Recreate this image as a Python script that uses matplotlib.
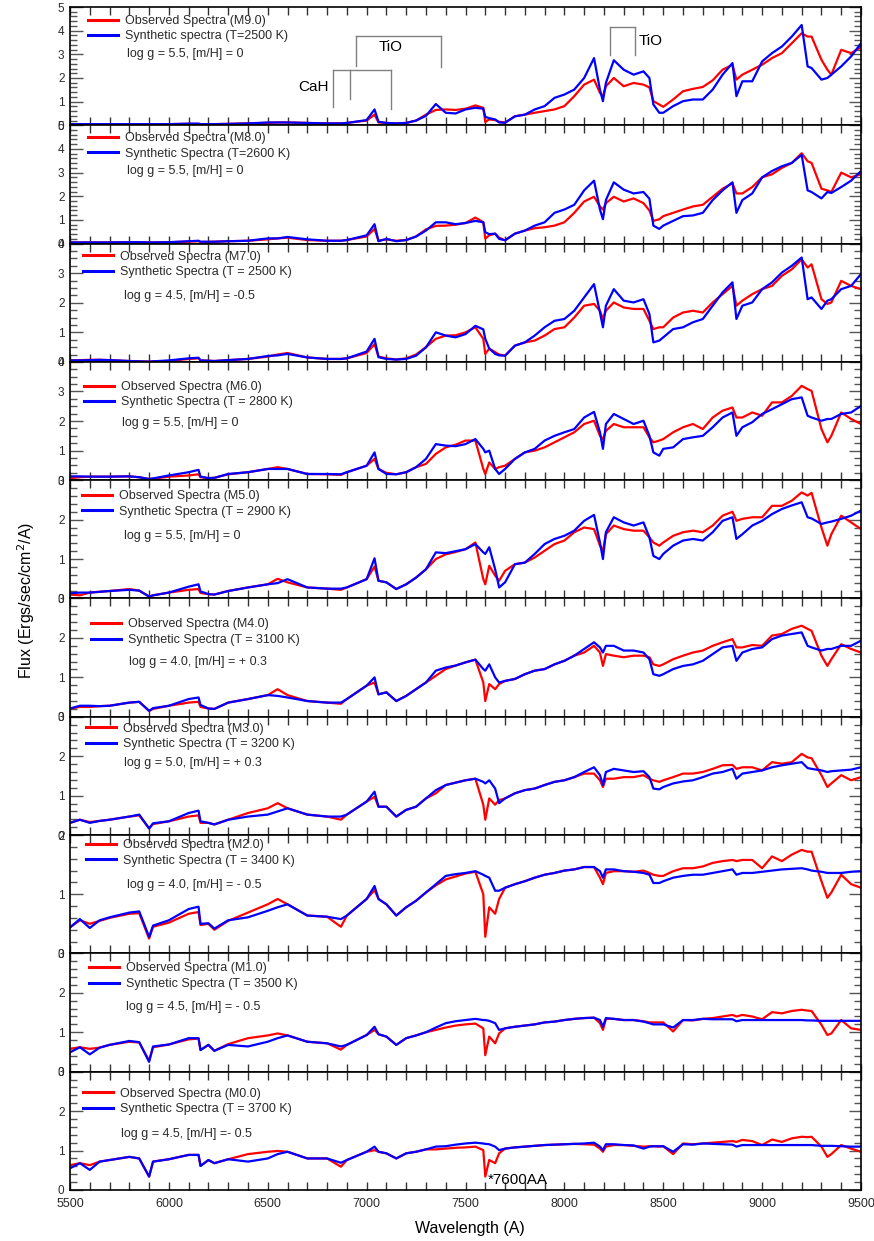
import matplotlib.pyplot as plt
from matplotlib.ticker import MultipleLocator
from matplotlib.lines import Line2D

plt.rcParams['font.family'] = ['Liberation Sans', 'DejaVu Sans']

# wavelength grid (Angstrom) shared by all spectra
wavelength = [5500, 5550, 5600, 5650, 5700, 5800, 5850, 5900, 5920, 6000,
              6100, 6150, 6160, 6200, 6230, 6300, 6400, 6500, 6550, 6600,
              6700, 6800, 6870, 6900, 7000, 7040, 7060, 7100, 7150, 7200,
              7250, 7300, 7350, 7400, 7450, 7500, 7550, 7590, 7600, 7620,
              7650, 7670, 7700, 7750, 7800, 7850, 7900, 7950, 8000, 8050,
              8100, 8150, 8180, 8195, 8210, 8250, 8300, 8350, 8400, 8430,
              8450, 8480, 8500, 8550, 8600, 8650, 8700, 8750, 8800, 8850,
              8870, 8900, 8950, 9000, 9050, 9100, 9150, 9200, 9230, 9250,
              9300, 9330, 9350, 9400, 9450, 9500]

# --- M9.0 ---
obs_m9 = [0.05, 0.05, 0.05, 0.05, 0.05, 0.05, 0.05, 0.04, 0.04, 0.05,
          0.06, 0.06, 0.05, 0.05, 0.05, 0.06, 0.08, 0.10, 0.12, 0.12,
          0.10, 0.08, 0.08, 0.10, 0.20, 0.45, 0.12, 0.10, 0.08, 0.10,
          0.20, 0.45, 0.65, 0.67, 0.65, 0.70, 0.84, 0.74, 0.14, 0.25,
          0.22, 0.15, 0.11, 0.38, 0.45, 0.53, 0.60, 0.67, 0.81, 1.23,
          1.72, 1.93, 1.37, 1.23, 1.65, 2.00, 1.65, 1.79, 1.72, 1.60,
          1.02, 0.88, 0.78, 1.09, 1.44, 1.54, 1.62, 1.90, 2.35, 2.56,
          1.93, 2.14, 2.35, 2.56, 2.84, 3.05, 3.47, 3.89, 3.75, 3.75,
          2.77, 2.35, 2.14, 3.19, 3.05, 3.30]
syn_m9 = [0.05, 0.05, 0.05, 0.05, 0.05, 0.05, 0.05, 0.05, 0.05, 0.05,
          0.07, 0.07, 0.05, 0.05, 0.05, 0.06, 0.08, 0.12, 0.12, 0.12,
          0.10, 0.08, 0.08, 0.10, 0.22, 0.67, 0.15, 0.10, 0.08, 0.10,
          0.20, 0.40, 0.90, 0.53, 0.50, 0.67, 0.74, 0.70, 0.36, 0.30,
          0.25, 0.12, 0.11, 0.38, 0.45, 0.67, 0.81, 1.16, 1.30, 1.51,
          2.00, 2.84, 1.50, 1.02, 1.79, 2.75, 2.35, 2.14, 2.28, 2.00,
          0.88, 0.53, 0.53, 0.81, 1.02, 1.09, 1.09, 1.51, 2.14, 2.63,
          1.23, 1.86, 1.86, 2.70, 3.05, 3.33, 3.75, 4.24, 2.49, 2.42,
          1.93, 2.00, 2.14, 2.49, 2.91, 3.47]

# --- M8.0 ---
obs_m8 = [0.05, 0.05, 0.05, 0.05, 0.05, 0.06, 0.06, 0.05, 0.05, 0.06,
          0.08, 0.10, 0.07, 0.07, 0.08, 0.10, 0.12, 0.18, 0.22, 0.25,
          0.15, 0.12, 0.12, 0.15, 0.30, 0.62, 0.12, 0.18, 0.12, 0.15,
          0.30, 0.60, 0.75, 0.76, 0.80, 0.87, 1.10, 0.90, 0.21, 0.35,
          0.42, 0.25, 0.14, 0.42, 0.55, 0.65, 0.69, 0.76, 0.90, 1.30,
          1.78, 1.98, 1.57, 1.44, 1.71, 1.98, 1.78, 1.91, 1.71, 1.40,
          0.96, 1.03, 1.16, 1.30, 1.44, 1.57, 1.64, 1.98, 2.32, 2.55,
          2.12, 2.12, 2.39, 2.80, 2.93, 3.20, 3.41, 3.82, 3.48, 3.41,
          2.32, 2.25, 2.18, 3.00, 2.80, 2.93]
syn_m8 = [0.05, 0.05, 0.05, 0.05, 0.05, 0.06, 0.06, 0.05, 0.05, 0.06,
          0.10, 0.12, 0.08, 0.08, 0.08, 0.10, 0.12, 0.22, 0.22, 0.28,
          0.18, 0.12, 0.12, 0.15, 0.35, 0.82, 0.10, 0.20, 0.10, 0.15,
          0.30, 0.55, 0.90, 0.90, 0.82, 0.87, 0.96, 0.90, 0.48, 0.40,
          0.42, 0.20, 0.14, 0.42, 0.55, 0.76, 0.90, 1.30, 1.44, 1.64,
          2.25, 2.66, 1.44, 1.03, 1.84, 2.59, 2.28, 2.12, 2.18, 1.90,
          0.76, 0.62, 0.76, 0.96, 1.16, 1.19, 1.30, 1.84, 2.25, 2.59,
          1.30, 1.84, 2.12, 2.80, 3.07, 3.27, 3.41, 3.75, 2.25, 2.18,
          1.91, 2.18, 2.14, 2.39, 2.66, 3.07]

# --- M7.0 ---
obs_m7 = [0.05, 0.06, 0.07, 0.07, 0.06, 0.03, 0.02, 0.01, 0.02, 0.03,
          0.10, 0.12, 0.05, 0.04, 0.03, 0.06, 0.10, 0.18, 0.25, 0.30,
          0.15, 0.10, 0.10, 0.12, 0.30, 0.60, 0.18, 0.12, 0.08, 0.12,
          0.25, 0.50, 0.78, 0.89, 0.90, 1.00, 1.17, 0.78, 0.27, 0.45,
          0.33, 0.25, 0.21, 0.55, 0.66, 0.72, 0.89, 1.11, 1.17, 1.50,
          1.90, 1.96, 1.73, 1.45, 1.73, 2.01, 1.84, 1.79, 1.79, 1.39,
          1.11, 1.17, 1.17, 1.50, 1.67, 1.73, 1.67, 2.01, 2.29, 2.57,
          1.90, 2.07, 2.29, 2.46, 2.57, 2.91, 3.13, 3.47, 3.19, 3.30,
          2.12, 1.96, 2.01, 2.74, 2.57, 2.46]
syn_m7 = [0.05, 0.05, 0.06, 0.07, 0.06, 0.03, 0.02, 0.01, 0.02, 0.05,
          0.12, 0.14, 0.05, 0.04, 0.03, 0.06, 0.10, 0.20, 0.22, 0.27,
          0.15, 0.10, 0.10, 0.12, 0.35, 0.78, 0.16, 0.10, 0.08, 0.10,
          0.21, 0.49, 1.00, 0.89, 0.83, 0.94, 1.22, 1.10, 0.78, 0.45,
          0.27, 0.22, 0.21, 0.55, 0.66, 0.89, 1.17, 1.39, 1.45, 1.73,
          2.18, 2.63, 1.67, 1.17, 1.90, 2.46, 2.07, 2.01, 2.12, 1.62,
          0.66, 0.72, 0.83, 1.11, 1.17, 1.34, 1.45, 1.90, 2.35, 2.69,
          1.45, 1.90, 2.01, 2.46, 2.69, 3.02, 3.25, 3.53, 2.12, 2.18,
          1.79, 2.07, 2.12, 2.46, 2.57, 2.97]

# --- M6.0 ---
obs_m6 = [0.07, 0.10, 0.12, 0.12, 0.12, 0.13, 0.10, 0.04, 0.05, 0.12,
          0.16, 0.20, 0.10, 0.07, 0.08, 0.20, 0.27, 0.38, 0.44, 0.38,
          0.21, 0.20, 0.18, 0.27, 0.49, 0.72, 0.38, 0.25, 0.20, 0.27,
          0.44, 0.55, 0.89, 1.11, 1.20, 1.34, 1.34, 0.38, 0.21, 0.60,
          0.38, 0.44, 0.49, 0.72, 0.94, 1.00, 1.11, 1.28, 1.45, 1.62,
          1.90, 2.01, 1.50, 1.39, 1.67, 1.90, 1.79, 1.79, 1.79, 1.45,
          1.28, 1.34, 1.39, 1.62, 1.79, 1.90, 1.73, 2.12, 2.35, 2.46,
          2.12, 2.12, 2.29, 2.18, 2.63, 2.63, 2.85, 3.19, 3.08, 3.02,
          1.73, 1.28, 1.50, 2.29, 2.07, 1.90]
syn_m6 = [0.13, 0.13, 0.12, 0.12, 0.12, 0.13, 0.10, 0.04, 0.06, 0.16,
          0.27, 0.35, 0.12, 0.07, 0.08, 0.21, 0.27, 0.38, 0.38, 0.38,
          0.21, 0.21, 0.20, 0.27, 0.49, 0.94, 0.38, 0.21, 0.20, 0.27,
          0.44, 0.72, 1.22, 1.17, 1.15, 1.22, 1.39, 1.06, 0.94, 1.00,
          0.38, 0.21, 0.38, 0.72, 0.94, 1.06, 1.34, 1.50, 1.62, 1.73,
          2.12, 2.31, 1.62, 1.06, 1.90, 2.24, 2.07, 1.90, 2.01, 1.50,
          0.94, 0.83, 1.06, 1.11, 1.39, 1.45, 1.50, 1.79, 2.12, 2.29,
          1.50, 1.79, 1.96, 2.24, 2.40, 2.57, 2.74, 2.80, 2.18, 2.12,
          2.01, 2.07, 2.07, 2.24, 2.29, 2.51]

# --- M5.0 ---
obs_m5 = [0.10, 0.08, 0.15, 0.17, 0.19, 0.24, 0.20, 0.05, 0.08, 0.15,
          0.22, 0.24, 0.14, 0.11, 0.10, 0.19, 0.28, 0.36, 0.50, 0.41,
          0.28, 0.25, 0.22, 0.28, 0.49, 0.81, 0.45, 0.41, 0.24, 0.36,
          0.53, 0.74, 1.00, 1.12, 1.18, 1.25, 1.42, 0.49, 0.36, 0.83,
          0.58, 0.45, 0.70, 0.87, 0.91, 1.04, 1.21, 1.38, 1.47, 1.68,
          1.80, 1.76, 1.34, 1.21, 1.63, 1.85, 1.76, 1.72, 1.72, 1.55,
          1.42, 1.34, 1.42, 1.59, 1.68, 1.72, 1.68, 1.85, 2.10, 2.20,
          1.97, 2.02, 2.06, 2.06, 2.35, 2.35, 2.48, 2.69, 2.61, 2.68,
          1.80, 1.34, 1.63, 2.10, 1.93, 1.76]
syn_m5 = [0.13, 0.15, 0.15, 0.17, 0.19, 0.22, 0.20, 0.05, 0.08, 0.15,
          0.30, 0.36, 0.18, 0.11, 0.10, 0.19, 0.28, 0.36, 0.39, 0.49,
          0.28, 0.25, 0.25, 0.28, 0.49, 1.02, 0.45, 0.41, 0.24, 0.36,
          0.53, 0.74, 1.17, 1.15, 1.20, 1.25, 1.38, 1.17, 1.13, 1.30,
          0.74, 0.28, 0.41, 0.87, 0.91, 1.13, 1.38, 1.51, 1.59, 1.72,
          1.97, 2.12, 1.42, 1.00, 1.68, 2.06, 1.93, 1.85, 1.93, 1.55,
          1.08, 1.00, 1.13, 1.34, 1.47, 1.51, 1.47, 1.68, 1.97, 2.06,
          1.51, 1.63, 1.85, 1.97, 2.14, 2.27, 2.36, 2.44, 2.06, 2.03,
          1.89, 1.93, 1.95, 2.02, 2.10, 2.23]

# --- M4.0 ---
obs_m4 = [0.21, 0.25, 0.25, 0.27, 0.28, 0.36, 0.38, 0.15, 0.20, 0.28,
          0.36, 0.38, 0.25, 0.21, 0.20, 0.36, 0.45, 0.55, 0.70, 0.55,
          0.40, 0.36, 0.33, 0.45, 0.79, 0.87, 0.57, 0.62, 0.40, 0.53,
          0.70, 0.87, 1.04, 1.21, 1.30, 1.38, 1.45, 0.87, 0.40, 0.83,
          0.70, 0.83, 0.91, 0.96, 1.08, 1.17, 1.21, 1.33, 1.42, 1.55,
          1.63, 1.80, 1.63, 1.29, 1.59, 1.55, 1.51, 1.55, 1.55, 1.51,
          1.33, 1.29, 1.33, 1.46, 1.55, 1.63, 1.68, 1.80, 1.89, 1.97,
          1.76, 1.76, 1.82, 1.80, 2.06, 2.10, 2.23, 2.31, 2.23, 2.18,
          1.55, 1.29, 1.46, 1.84, 1.72, 1.63]
syn_m4 = [0.21, 0.28, 0.28, 0.27, 0.28, 0.36, 0.38, 0.15, 0.22, 0.28,
          0.45, 0.49, 0.30, 0.21, 0.20, 0.36, 0.45, 0.55, 0.53, 0.49,
          0.40, 0.36, 0.36, 0.45, 0.79, 1.00, 0.57, 0.62, 0.40, 0.53,
          0.70, 0.87, 1.17, 1.25, 1.30, 1.38, 1.45, 1.21, 1.17, 1.33,
          1.00, 0.87, 0.91, 0.96, 1.08, 1.17, 1.21, 1.33, 1.42, 1.55,
          1.72, 1.89, 1.76, 1.63, 1.80, 1.80, 1.68, 1.68, 1.63, 1.46,
          1.08, 1.04, 1.08, 1.21, 1.29, 1.33, 1.42, 1.59, 1.76, 1.80,
          1.42, 1.63, 1.72, 1.76, 1.97, 2.06, 2.10, 2.14, 1.80, 1.76,
          1.68, 1.72, 1.72, 1.80, 1.80, 1.93]

# --- M3.0 ---
obs_m3 = [0.31, 0.39, 0.33, 0.36, 0.39, 0.47, 0.50, 0.17, 0.28, 0.35,
          0.47, 0.50, 0.31, 0.31, 0.27, 0.39, 0.56, 0.68, 0.81, 0.68,
          0.52, 0.47, 0.39, 0.52, 0.85, 0.97, 0.72, 0.72, 0.47, 0.64,
          0.72, 0.93, 1.06, 1.27, 1.33, 1.39, 1.43, 0.77, 0.39, 0.93,
          0.77, 0.89, 0.93, 1.06, 1.14, 1.18, 1.27, 1.35, 1.39, 1.47,
          1.56, 1.56, 1.39, 1.22, 1.43, 1.43, 1.47, 1.47, 1.52, 1.43,
          1.39, 1.35, 1.39, 1.47, 1.56, 1.56, 1.60, 1.68, 1.77, 1.78,
          1.68, 1.72, 1.72, 1.64, 1.85, 1.81, 1.85, 2.06, 1.97, 1.95,
          1.52, 1.22, 1.31, 1.52, 1.39, 1.47]
syn_m3 = [0.31, 0.39, 0.31, 0.36, 0.39, 0.47, 0.52, 0.17, 0.30, 0.35,
          0.56, 0.62, 0.35, 0.31, 0.27, 0.39, 0.47, 0.52, 0.60, 0.68,
          0.52, 0.47, 0.47, 0.52, 0.85, 1.10, 0.72, 0.72, 0.47, 0.64,
          0.72, 0.93, 1.14, 1.27, 1.33, 1.39, 1.43, 1.35, 1.31, 1.39,
          1.18, 0.81, 0.93, 1.06, 1.14, 1.18, 1.27, 1.35, 1.39, 1.47,
          1.60, 1.72, 1.52, 1.27, 1.60, 1.68, 1.64, 1.60, 1.62, 1.47,
          1.18, 1.16, 1.22, 1.31, 1.36, 1.39, 1.47, 1.56, 1.60, 1.68,
          1.43, 1.56, 1.60, 1.64, 1.72, 1.77, 1.81, 1.85, 1.70, 1.68,
          1.64, 1.60, 1.62, 1.64, 1.66, 1.72]

# --- M2.0 ---
obs_m2 = [0.44, 0.56, 0.50, 0.55, 0.60, 0.67, 0.68, 0.25, 0.45, 0.52,
          0.67, 0.70, 0.48, 0.50, 0.40, 0.55, 0.69, 0.83, 0.92, 0.83,
          0.64, 0.62, 0.45, 0.64, 0.92, 1.07, 0.92, 0.83, 0.64, 0.78,
          0.89, 1.03, 1.15, 1.25, 1.30, 1.35, 1.38, 1.00, 0.28, 0.78,
          0.67, 0.92, 1.11, 1.17, 1.22, 1.28, 1.33, 1.36, 1.40, 1.42,
          1.46, 1.46, 1.28, 1.17, 1.36, 1.39, 1.39, 1.38, 1.40, 1.36,
          1.33, 1.31, 1.31, 1.39, 1.44, 1.44, 1.47, 1.53, 1.56, 1.58,
          1.56, 1.58, 1.58, 1.44, 1.64, 1.56, 1.67, 1.75, 1.72, 1.72,
          1.22, 0.94, 1.03, 1.33, 1.17, 1.11]
syn_m2 = [0.44, 0.58, 0.43, 0.56, 0.61, 0.69, 0.71, 0.28, 0.47, 0.56,
          0.75, 0.79, 0.50, 0.51, 0.42, 0.56, 0.61, 0.72, 0.78, 0.83,
          0.64, 0.62, 0.58, 0.64, 0.92, 1.14, 0.92, 0.83, 0.64, 0.78,
          0.89, 1.03, 1.17, 1.31, 1.34, 1.36, 1.39, 1.33, 1.31, 1.28,
          1.06, 1.06, 1.11, 1.17, 1.22, 1.28, 1.33, 1.36, 1.40, 1.42,
          1.46, 1.46, 1.39, 1.28, 1.42, 1.42, 1.39, 1.38, 1.36, 1.33,
          1.19, 1.19, 1.22, 1.28, 1.31, 1.33, 1.33, 1.36, 1.39, 1.42,
          1.33, 1.36, 1.36, 1.38, 1.40, 1.42, 1.43, 1.44, 1.42, 1.40,
          1.38, 1.36, 1.36, 1.36, 1.38, 1.39]

# --- M1.0 ---
obs_m1 = [0.58, 0.62, 0.58, 0.61, 0.68, 0.76, 0.74, 0.28, 0.62, 0.69,
          0.82, 0.84, 0.55, 0.68, 0.53, 0.70, 0.85, 0.92, 0.97, 0.92,
          0.76, 0.72, 0.56, 0.68, 0.93, 1.06, 0.95, 0.89, 0.68, 0.85,
          0.92, 1.00, 1.06, 1.12, 1.17, 1.20, 1.22, 1.10, 0.42, 0.89,
          0.72, 0.97, 1.10, 1.14, 1.17, 1.20, 1.25, 1.27, 1.31, 1.34,
          1.36, 1.37, 1.23, 1.06, 1.34, 1.34, 1.31, 1.31, 1.28, 1.25,
          1.25, 1.25, 1.25, 1.02, 1.31, 1.30, 1.34, 1.36, 1.40, 1.44,
          1.40, 1.44, 1.40, 1.33, 1.51, 1.48, 1.54, 1.57, 1.55, 1.54,
          1.19, 0.93, 0.97, 1.31, 1.10, 1.06]
syn_m1 = [0.49, 0.62, 0.44, 0.61, 0.68, 0.78, 0.75, 0.25, 0.64, 0.69,
          0.85, 0.85, 0.55, 0.68, 0.53, 0.68, 0.64, 0.76, 0.85, 0.92,
          0.76, 0.72, 0.64, 0.68, 0.93, 1.14, 0.95, 0.89, 0.68, 0.85,
          0.92, 1.00, 1.12, 1.23, 1.28, 1.31, 1.34, 1.31, 1.31, 1.29,
          1.23, 1.06, 1.10, 1.14, 1.17, 1.20, 1.25, 1.27, 1.31, 1.34,
          1.36, 1.37, 1.31, 1.14, 1.36, 1.34, 1.31, 1.31, 1.27, 1.23,
          1.20, 1.20, 1.20, 1.12, 1.31, 1.31, 1.34, 1.33, 1.33, 1.33,
          1.28, 1.31, 1.31, 1.31, 1.31, 1.31, 1.31, 1.31, 1.30, 1.30,
          1.29, 1.29, 1.29, 1.29, 1.29, 1.29]

# --- M0.0 ---
obs_m0 = [0.63, 0.68, 0.63, 0.72, 0.76, 0.84, 0.80, 0.34, 0.72, 0.78,
          0.89, 0.89, 0.61, 0.76, 0.68, 0.78, 0.91, 0.97, 0.99, 0.97,
          0.80, 0.80, 0.59, 0.76, 0.97, 1.01, 0.97, 0.93, 0.80, 0.93,
          0.97, 1.03, 1.03, 1.05, 1.07, 1.08, 1.10, 1.01, 0.34, 0.76,
          0.68, 0.93, 1.05, 1.08, 1.10, 1.12, 1.14, 1.15, 1.16, 1.17,
          1.16, 1.15, 1.05, 0.97, 1.10, 1.14, 1.14, 1.12, 1.10, 1.11,
          1.11, 1.10, 1.11, 0.91, 1.18, 1.16, 1.18, 1.20, 1.22, 1.24,
          1.22, 1.27, 1.24, 1.14, 1.28, 1.22, 1.31, 1.35, 1.34, 1.35,
          1.10, 0.84, 0.91, 1.14, 1.05, 0.97]
syn_m0 = [0.55, 0.68, 0.51, 0.72, 0.76, 0.84, 0.80, 0.34, 0.72, 0.78,
          0.89, 0.89, 0.61, 0.76, 0.68, 0.78, 0.72, 0.80, 0.91, 0.97,
          0.80, 0.80, 0.69, 0.76, 0.97, 1.10, 0.97, 0.93, 0.80, 0.93,
          0.97, 1.03, 1.10, 1.11, 1.15, 1.18, 1.20, 1.18, 1.17, 1.16,
          1.10, 1.01, 1.05, 1.08, 1.10, 1.12, 1.14, 1.15, 1.16, 1.17,
          1.18, 1.20, 1.10, 1.01, 1.16, 1.16, 1.14, 1.13, 1.05, 1.10,
          1.11, 1.11, 1.11, 0.97, 1.16, 1.15, 1.18, 1.17, 1.16, 1.15,
          1.10, 1.14, 1.14, 1.14, 1.14, 1.14, 1.14, 1.14, 1.14, 1.14,
          1.12, 1.12, 1.12, 1.11, 1.10, 1.10]

observed = [obs_m9, obs_m8, obs_m7, obs_m6, obs_m5, obs_m4, obs_m3, obs_m2, obs_m1, obs_m0]
synthetic = [syn_m9, syn_m8, syn_m7, syn_m6, syn_m5, syn_m4, syn_m3, syn_m2, syn_m1, syn_m0]

obs_labels = ['Observed Spectra (M9.0)', 'Observed Spectra (M8.0)', 'Observed Spectra (M7.0)',
              'Observed Spectra (M6.0)', 'Observed Spectra (M5.0)', 'Observed Spectra (M4.0)',
              'Observed Spectra (M3.0)', 'Observed Spectra (M2.0)', 'Observed Spectra (M1.0)',
              'Observed Spectra (M0.0)']
syn_labels = ['Synthetic spectra (T=2500 K)', 'Synthetic Spectra (T=2600 K)',
              'Synthetic Spectra (T = 2500 K)', 'Synthetic Spectra (T = 2800 K)',
              'Synthetic Spectra (T = 2900 K)', 'Synthetic Spectra (T = 3100 K)',
              'Synthetic Spectra (T = 3200 K)', 'Synthetic Spectra (T = 3400 K)',
              'Synthetic Spectra (T = 3500 K)', 'Synthetic Spectra (T = 3700 K)']
param_labels = ['log g = 5.5, [m/H] = 0', 'log g = 5.5, [m/H] = 0', 'log g = 4.5, [m/H] = -0.5',
                'log g = 5.5, [m/H] = 0', 'log g = 5.5, [m/H] = 0', 'log g = 4.0, [m/H] = + 0.3',
                'log g = 5.0, [m/H] = + 0.3', 'log g = 4.0, [m/H] = - 0.5',
                'log g = 4.5, [m/H] = - 0.5', 'log g = 4.5, [m/H] =- 0.5']

y_max = [5, 5, 4, 4, 3, 3, 3, 2, 3, 3]
y_minor = [0.2, 0.2, 0.25, 0.25, 0.2, 0.2, 0.2, 0.2, 0.2, 0.2]

# legend placement in pixels: (legend left x, row-1 offset from panel top, row-3 offset, row-3 x)
legend_px = [(88, 15, 47, 127), (88, 14, 46, 127), (83, 14, 52, 124), (84, 26, 61, 122),
             (82, 17, 56, 124), (91, 27, 64, 129), (86, 13, 46, 124), (86, 11, 50, 127),
             (89, 16, 54, 126), (83, 23, 62, 121)]

W, H = 874, 1241
X0, X1, Y0, Y1 = 70, 861, 7, 1190
panel_h = (Y1 - Y0) / 10.0

fig = plt.figure(figsize=(W / 100, H / 100), dpi=100)
gs = fig.add_gridspec(10, 1, left=X0 / W, right=X1 / W, top=1 - Y0 / H, bottom=1 - Y1 / H, hspace=0)

text_col = '#2a2a2a'
axes = []
for i in range(10):
    ax = fig.add_subplot(gs[i, 0])
    axes.append(ax)
    ax.plot(wavelength, observed[i], color='#ff0000', lw=1.6)
    ax.plot(wavelength, synthetic[i], color='#0000ff', lw=1.6)
    ax.set_xlim(5500, 9500)
    ax.set_ylim(0, y_max[i])
    ax.xaxis.set_major_locator(MultipleLocator(500))
    ax.xaxis.set_minor_locator(MultipleLocator(100))
    ax.yaxis.set_major_locator(MultipleLocator(1))
    ax.yaxis.set_minor_locator(MultipleLocator(y_minor[i]))
    ax.tick_params(axis='x', which='both', direction='in', top=True, bottom=True,
                   length=6, width=1, color='#333333', labelsize=9, labelcolor=text_col, pad=6)
    ax.tick_params(axis='y', which='major', direction='in', left=True, right=True,
                   length=9, width=1, color='#555555', labelsize=8.5, labelcolor=text_col, pad=4)
    ax.tick_params(axis='y', which='minor', direction='in', left=True, right=True,
                   length=5, width=1, color='#555555')
    for s in ax.spines.values():
        s.set_linewidth(1.2)
    if i < 9:
        ax.tick_params(axis='x', labelbottom=False)

    lx, r1, r3, tx = legend_px[i]
    handles = [Line2D([], [], color='#ff0000', lw=2.2), Line2D([], [], color='#0000ff', lw=2.2)]
    leg = ax.legend(handles, [obs_labels[i], syn_labels[i]], loc='upper left',
                    bbox_to_anchor=((lx - X0) / (X1 - X0), 1 - (r1 - 7) / panel_h),
                    frameon=False, borderpad=0, borderaxespad=0, handlelength=2.4,
                    handletextpad=0.55, labelspacing=0.28, fontsize=9)
    for t in leg.get_texts():
        t.set_color(text_col)
    ax.text((tx - X0) / (X1 - X0), 1 - r3 / panel_h, param_labels[i], transform=ax.transAxes,
            fontsize=9, color=text_col, va='center', ha='left')

# molecular band markers on the top panel
ax = axes[0]
bracket_col = '#808080'
cah_bands = [(6830, 0.76), (6916, 1.13), (7123, 0.67)]
tio_band_a = [(6946, 2.52), (7376, 2.48)]
tio_band_b = [(8231, 2.98), (8357, 2.98)]
ax.plot([cah_bands[0][0], cah_bands[-1][0]], [2.35, 2.35], color=bracket_col, lw=1)
for xb, yb in cah_bands:
    ax.plot([xb, xb], [yb, 2.35], color=bracket_col, lw=1)
ax.plot([tio_band_a[0][0], tio_band_a[-1][0]], [3.78, 3.78], color=bracket_col, lw=1)
for xb, yb in tio_band_a:
    ax.plot([xb, xb], [yb, 3.78], color=bracket_col, lw=1)
ax.plot([tio_band_b[0][0], tio_band_b[-1][0]], [4.16, 4.16], color=bracket_col, lw=1)
for xb, yb in tio_band_b:
    ax.plot([xb, xb], [yb, 4.16], color=bracket_col, lw=1)
ax.text(6810, 1.6, 'CaH', fontsize=11, ha='right', va='center', color='black')
ax.text(7120, 3.32, 'TiO', fontsize=11, ha='center', va='center', color='black')
ax.text(8377, 3.57, 'TiO', fontsize=11, ha='left', va='center', color='black')

axes[9].text(7615, 0.25, '*7600AA', fontsize=11, ha='left', va='center', color='black')

fig.text(470 / W, 1 - 1228 / H, 'Wavelength (A)', fontsize=11.5, ha='center', va='center')
fig.text(26 / W, 1 - 600 / H, 'Flux (Ergs/sec/cm$^2$/A)', fontsize=11.5, rotation=90,
         ha='center', va='center')

fig.savefig('out.png', dpi=100)
